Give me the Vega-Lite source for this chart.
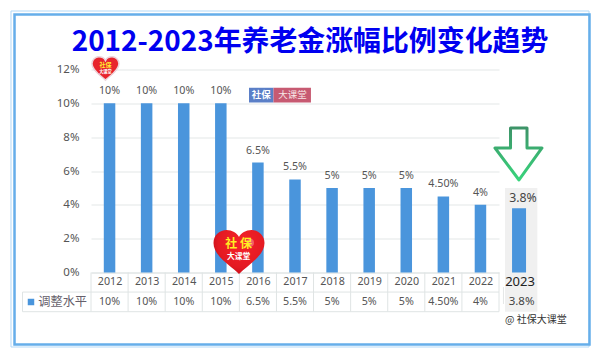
{
"$schema":"https://vega.github.io/schema/vega-lite/v6.json",
"width":408,"height":203,
"autosize":{"type":"none"},
"padding":{"left":91,"top":69.5,"right":101,"bottom":85.5},
"background":"#ffffff",
"title":{"text":"2012-2023年养老金涨幅比例变化趋势","font":"Noto Sans CJK SC","fontSize":27.9,"fontWeight":"bold","color":"#0000f0","anchor":"middle","dx":15,"offset":-46},
"config":{"view":{"stroke":null},"font":"Noto Sans"},
"datasets":{
"main":[
{"year":2012,"value":10,"label":"10%"},
{"year":2013,"value":10,"label":"10%"},
{"year":2014,"value":10,"label":"10%"},
{"year":2015,"value":10,"label":"10%"},
{"year":2016,"value":6.5,"label":"6.5%"},
{"year":2017,"value":5.5,"label":"5.5%"},
{"year":2018,"value":5,"label":"5%"},
{"year":2019,"value":5,"label":"5%"},
{"year":2020,"value":5,"label":"5%"},
{"year":2021,"value":4.5,"label":"4.50%"},
{"year":2022,"value":4,"label":"4%"}],
"latest":[{"year":2023,"value":3.8,"label":"3.8%"}],
"edges":[{"edge":2011.5},{"edge":2012.5},{"edge":2013.5},{"edge":2014.5},{"edge":2015.5},{"edge":2016.5},{"edge":2017.5},{"edge":2018.5},{"edge":2019.5},{"edge":2020.5},{"edge":2021.5},{"edge":2022.5}],
"one":[{"item":"decoration"}]
},
"layer":[
{"data":{"name":"main"},"mark":{"type":"bar","size":11.5,"color":"#4a95dc"},"encoding":{
"x":{"field":"year","type":"quantitative","scale":{"domain":[2011.5,2022.5],"nice":false,"zero":false,"padding":0},"axis":{"values":[2012,2013,2014,2015,2016,2017,2018,2019,2020,2021,2022],"format":"d","title":null,"grid":false,"ticks":false,"domain":true,"domainColor":"#dfe4e4","labelColor":"#555555","labelFontSize":10.7,"labelPadding":4,"labelOverlap":false,"labelFlush":false}},
"y":{"field":"value","type":"quantitative","scale":{"domain":[0,12],"nice":false},"axis":{"values":[0,2,4,6,8,10,12],"tickCount":7,"labelExpr":"datum.value+'%'","title":null,"domain":false,"ticks":false,"grid":true,"gridColor":"#e3e7e7","gridWidth":1,"labelColor":"#555555","labelFontSize":11.5,"labelPadding":12,"labelOverlap":false,"labelFlush":false}}}},
{"data":{"name":"one"},"mark":{"type":"rect","fillOpacity":0,"stroke":"#b3d9f7","strokeWidth":1},"encoding":{"x":{"datum":2009.343,"type":"quantitative"},"x2":{"datum":2024.927},"y":{"datum":15.458,"type":"quantitative"},"y2":{"datum":-4.404}}},
{"data":{"name":"one"},"mark":{"type":"rect","fillOpacity":0,"stroke":"#66aeea","strokeWidth":2.5},"encoding":{"x":{"datum":2009.438,"type":"quantitative"},"x2":{"datum":2024.94},"y":{"datum":15.25,"type":"quantitative"},"y2":{"datum":-4.25}}},
{"data":{"name":"one"},"mark":{"type":"rect","fill":"#f0f0f0"},"encoding":{"x":{"datum":2022.662,"type":"quantitative"},"x2":{"datum":2023.533},"y":{"datum":5.0,"type":"quantitative"},"y2":{"datum":-2.317}}},
{"data":{"name":"edges"},"mark":{"type":"rule","color":"#dfe4e4","strokeWidth":1},"encoding":{"x":{"field":"edge","type":"quantitative"},"y":{"datum":0,"type":"quantitative"},"y2":{"datum":-2.317}}},
{"data":{"name":"one"},"mark":{"type":"rule","color":"#dfe4e4","strokeWidth":1},"encoding":{"x":{"datum":2009.653,"type":"quantitative"},"y":{"datum":-1.157,"type":"quantitative"},"y2":{"datum":-2.317}}},
{"data":{"name":"one"},"mark":{"type":"rule","color":"#dfe4e4","strokeWidth":1},"encoding":{"x":{"datum":2009.653,"type":"quantitative"},"x2":{"datum":2022.5},"y":{"datum":-1.157,"type":"quantitative"}}},
{"data":{"name":"one"},"mark":{"type":"rule","color":"#dfe4e4","strokeWidth":1},"encoding":{"x":{"datum":2009.653,"type":"quantitative"},"x2":{"datum":2022.5},"y":{"datum":-2.317,"type":"quantitative"}}},
{"data":{"name":"one"},"mark":{"type":"rule","color":"#e4e6e6","strokeWidth":1},"encoding":{"x":{"datum":2022.62,"type":"quantitative"},"y":{"datum":-0.857,"type":"quantitative"},"y2":{"datum":-1.862}}},
{"data":{"name":"latest"},"mark":{"type":"bar","size":14,"color":"#4a95dc","xOffset":1.5},"encoding":{"x":{"field":"year","type":"quantitative"},"y":{"field":"value","type":"quantitative"}}},
{"data":{"name":"main"},"mark":{"type":"text","dy":-12,"fontSize":10.7,"color":"#555555"},"encoding":{"x":{"field":"year","type":"quantitative"},"y":{"field":"value","type":"quantitative"},"text":{"field":"label"}}},
{"data":{"name":"latest"},"mark":{"type":"text","dy":-10,"xOffset":5.5,"fontSize":12.3,"color":"#444444"},"encoding":{"x":{"field":"year","type":"quantitative"},"y":{"field":"value","type":"quantitative"},"text":{"field":"label"}}},
{"data":{"name":"main"},"mark":{"type":"text","fontSize":10.7,"color":"#555555"},"encoding":{"x":{"field":"year","type":"quantitative"},"y":{"datum":-1.744,"type":"quantitative"},"text":{"field":"label"}}},
{"data":{"name":"latest"},"mark":{"type":"text","xOffset":4,"fontSize":11.5,"color":"#444444"},"encoding":{"x":{"field":"year","type":"quantitative"},"y":{"datum":-1.744,"type":"quantitative"},"text":{"field":"label"}}},
{"data":{"name":"latest"},"mark":{"type":"text","xOffset":2.5,"fontSize":13,"color":"#222222"},"encoding":{"x":{"field":"year","type":"quantitative"},"y":{"datum":-0.56,"type":"quantitative"},"text":{"field":"year","type":"quantitative","format":"d"}}},
{"data":{"name":"one"},"mark":{"type":"point","shape":"square","filled":true,"size":42,"color":"#4a95dc","opacity":1},"encoding":{"x":{"datum":2009.882,"type":"quantitative"},"y":{"datum":-1.744,"type":"quantitative"}}},
{"data":{"values":[{"t":"调整水平"}]},"mark":{"type":"text","align":"left","font":"Noto Sans CJK SC","fontSize":12.2,"color":"#665f6b"},"encoding":{"x":{"datum":2010.079,"type":"quantitative"},"y":{"datum":-1.744,"type":"quantitative"},"text":{"field":"t"}}},
{"data":{"values":[{"t":"@ 社保大课堂"}]},"mark":{"type":"text","align":"left","font":"Noto Sans CJK SC","fontSize":10,"color":"#333333"},"encoding":{"x":{"datum":2022.662,"type":"quantitative"},"y":{"datum":-2.808,"type":"quantitative"},"text":{"field":"t"}}},
{"data":{"name":"one"},"mark":{"type":"point","filled":true,"opacity":1,"size":4,"shape":"M-8,-26 L8.5,-26 L8.5,-6 L23.5,-6 L0.5,26 L-23.5,-6 L-8,-6 Z","fill":"#ffffff","strokeWidth":3,"strokeJoin":"round","stroke":{"gradient":"linear","x1":0,"y1":0,"x2":0,"y2":1,"stops":[{"offset":0,"color":"#3d9468"},{"offset":1,"color":"#38d47c"}]}},"encoding":{"x":{"datum":2023.026,"type":"quantitative"},"y":{"datum":7.005,"type":"quantitative"}}},
{"data":{"name":"one"},"mark":{"type":"rect","fill":"#5b7fc7"},"encoding":{"x":{"datum":2015.76,"type":"quantitative"},"x2":{"datum":2016.42},"y":{"datum":10.92,"type":"quantitative"},"y2":{"datum":10.05}}},
{"data":{"name":"one"},"mark":{"type":"rect","fill":"#c75a72"},"encoding":{"x":{"datum":2016.42,"type":"quantitative"},"x2":{"datum":2017.43},"y":{"datum":10.92,"type":"quantitative"},"y2":{"datum":10.05}}},
{"data":{"values":[{"t":"社保"}]},"mark":{"type":"text","font":"Noto Sans CJK SC","fontWeight":"bold","fontSize":9.5,"letterSpacing":1,"color":"#ffffff"},"encoding":{"x":{"datum":2016.09,"type":"quantitative"},"y":{"datum":10.49,"type":"quantitative"},"text":{"field":"t"}}},
{"data":{"values":[{"t":"大课堂"}]},"mark":{"type":"text","font":"Noto Sans CJK SC","fontSize":9.5,"letterSpacing":1,"color":"#f7e6e6"},"encoding":{"x":{"datum":2016.93,"type":"quantitative"},"y":{"datum":10.49,"type":"quantitative"},"text":{"field":"t"}}},
{"data":{"name":"one"},"mark":{"type":"point","filled":true,"opacity":1,"size":1.12,"shape":"M0,22 C-8,14 -25.5,4 -25.5,-9 C-25.5,-17 -19,-22 -12.5,-22 C-7,-22 -2,-19 0,-15 C2,-19 7,-22 12.5,-22 C19,-22 25.5,-17 25.5,-9 C25.5,4 8,14 0,22 Z","fill":"#e8242c","stroke":"#ecd5dc","strokeWidth":1.5},"encoding":{"x":{"datum":2011.89,"type":"quantitative"},"y":{"datum":12.06,"type":"quantitative"}}},
{"data":{"values":[{"t":"社保"}]},"mark":{"type":"text","font":"Noto Sans CJK SC","fontWeight":"bold","fontSize":6,"color":"#ffee33"},"encoding":{"x":{"datum":2011.89,"type":"quantitative"},"y":{"datum":12.27,"type":"quantitative"},"text":{"field":"t"}}},
{"data":{"values":[{"t":"大课堂"}]},"mark":{"type":"text","font":"Noto Sans CJK SC","fontWeight":"bold","fontSize":4.2,"color":"#ffffff"},"encoding":{"x":{"datum":2011.89,"type":"quantitative"},"y":{"datum":11.88,"type":"quantitative"},"text":{"field":"t"}}},
{"data":{"name":"one"},"mark":{"type":"point","filled":true,"opacity":1,"size":4,"shape":"M0,22 C-8,14 -25.5,4 -25.5,-9 C-25.5,-17 -19,-22 -12.5,-22 C-7,-22 -2,-19 0,-15 C2,-19 7,-22 12.5,-22 C19,-22 25.5,-17 25.5,-9 C25.5,4 8,14 0,22 Z","fill":{"gradient":"radial","x1":0.55,"y1":0.35,"x2":0.55,"y2":0.35,"r1":0,"r2":0.65,"stops":[{"offset":0,"color":"#f5222a"},{"offset":0.7,"color":"#e41a22"},{"offset":1,"color":"#c00d18"}]}},"encoding":{"x":{"datum":2015.49,"type":"quantitative"},"y":{"datum":1.213,"type":"quantitative"}}},
{"data":{"name":"one"},"mark":{"type":"point","filled":true,"opacity":0.3,"size":60,"color":"#ffffff","shape":"circle"},"encoding":{"x":{"datum":2015.79,"type":"quantitative"},"y":{"datum":1.76,"type":"quantitative"}}},
{"data":{"values":[{"t":"社 保"}]},"mark":{"type":"text","font":"Noto Sans CJK SC","fontWeight":"bold","fontSize":12,"color":"#ffee22"},"encoding":{"x":{"datum":2015.48,"type":"quantitative"},"y":{"datum":1.68,"type":"quantitative"},"text":{"field":"t"}}},
{"data":{"values":[{"t":"大课堂"}]},"mark":{"type":"text","font":"Noto Sans CJK SC","fontWeight":"bold","fontSize":7.8,"color":"#ffffff"},"encoding":{"x":{"datum":2015.48,"type":"quantitative"},"y":{"datum":0.9,"type":"quantitative"},"text":{"field":"t"}}}
]
}
